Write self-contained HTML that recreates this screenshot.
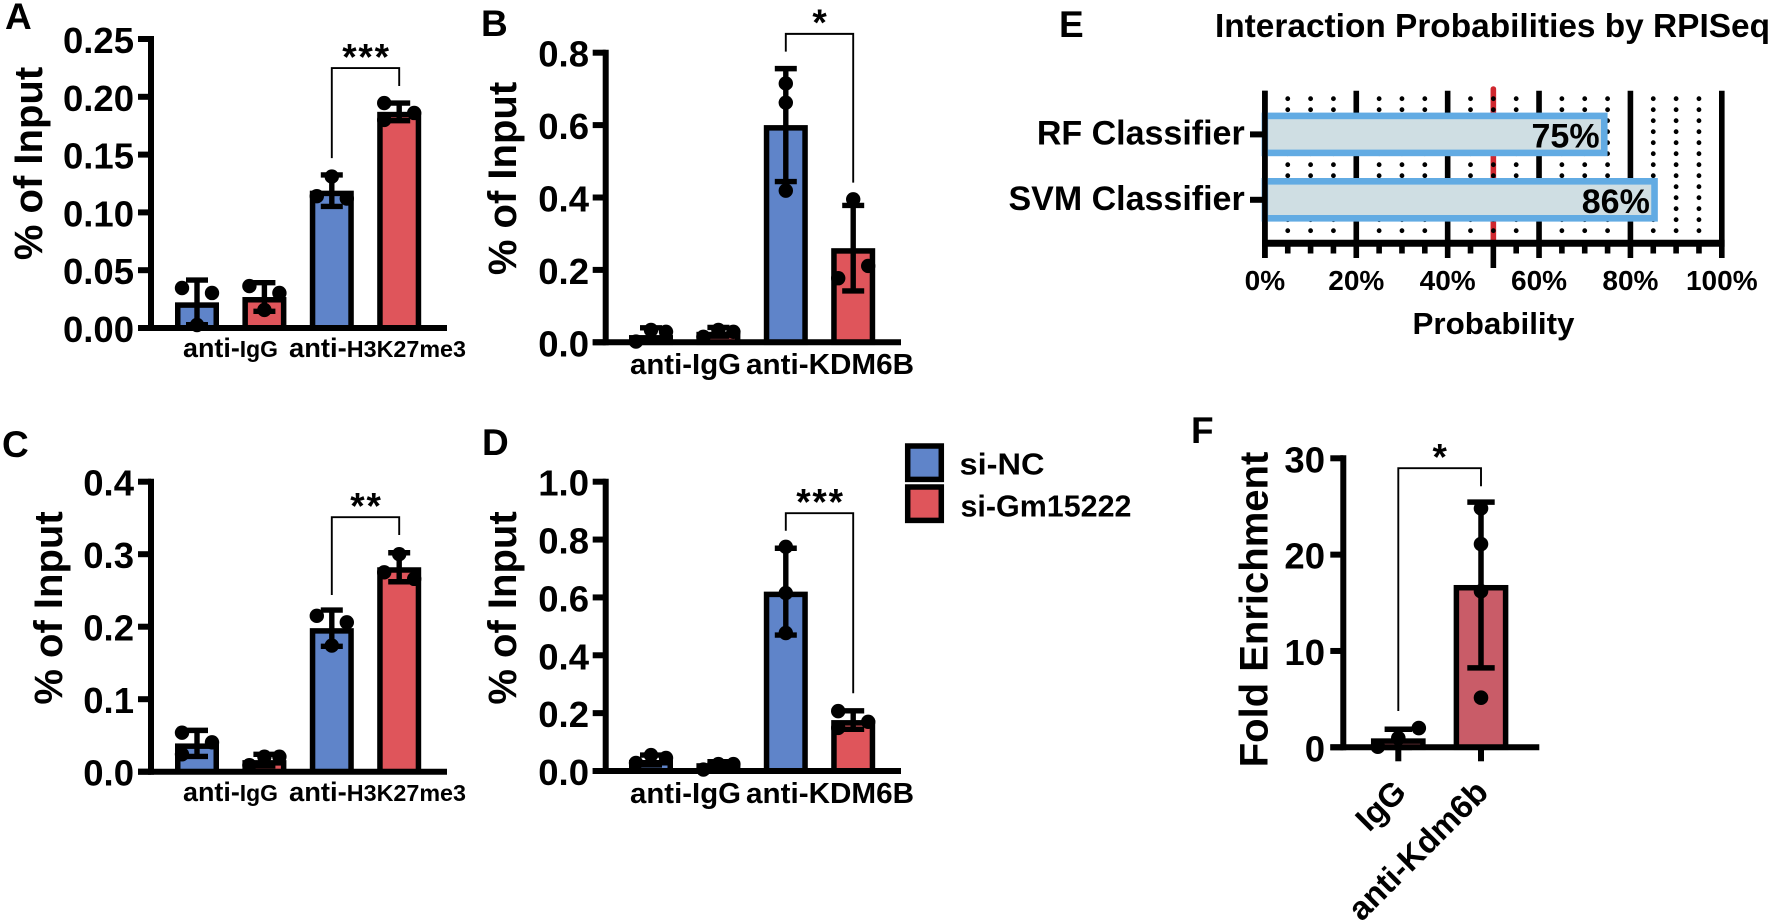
<!DOCTYPE html>
<html lang="en">
<head>
<meta charset="utf-8">
<title>ChIP qPCR panels and RPISeq interaction probabilities</title>
<style>
html,body{margin:0;padding:0;background:#fff;width:1772px;height:922px;overflow:hidden}
svg{display:block;filter:blur(.35px)}
text{font-family:"Liberation Sans",Arial,sans-serif;font-weight:700;fill:#000}
</style>
</head>
<body>
<svg id="figure" xmlns="http://www.w3.org/2000/svg" width="1772" height="922" viewBox="0 0 1772 922">
  <rect width="1772" height="922" fill="#fff"/>

  <text x="5" y="29" font-size="37">A</text>
  <text x="481" y="36" font-size="37">B</text>
  <text x="2" y="457" font-size="37">C</text>
  <text x="482" y="455" font-size="37">D</text>
  <text x="1059" y="37" font-size="37">E</text>
  <text x="1191" y="443" font-size="37">F</text>

  <text transform="translate(42 163.5) rotate(-90)" text-anchor="middle" font-size="40">% of Input</text>
  <text transform="translate(516 178.5) rotate(-90)" text-anchor="middle" font-size="40">% of Input</text>
  <text transform="translate(62 608) rotate(-90)" text-anchor="middle" font-size="40">% of Input</text>
  <text transform="translate(516 608) rotate(-90)" text-anchor="middle" font-size="40">% of Input</text>
  <text transform="translate(1267.5 609.5) rotate(-90)" text-anchor="middle" font-size="40">Fold Enrichment</text>

  <text x="183" y="357" font-size="27" textLength="95" lengthAdjust="spacingAndGlyphs">anti-<tspan font-size="23">IgG</tspan></text>
  <text x="289" y="357" font-size="27" textLength="177" lengthAdjust="spacingAndGlyphs">anti-<tspan font-size="23">H3K27me3</tspan></text>
  <text x="183" y="801" font-size="27" textLength="95" lengthAdjust="spacingAndGlyphs">anti-<tspan font-size="23">IgG</tspan></text>
  <text x="289" y="801" font-size="27" textLength="177" lengthAdjust="spacingAndGlyphs">anti-<tspan font-size="23">H3K27me3</tspan></text>
  <text x="630" y="374" font-size="29" textLength="111" lengthAdjust="spacingAndGlyphs">anti-IgG</text>
  <text x="746" y="374" font-size="29" textLength="168" lengthAdjust="spacingAndGlyphs">anti-KDM6B</text>
  <text x="630" y="803" font-size="29" textLength="111" lengthAdjust="spacingAndGlyphs">anti-IgG</text>
  <text x="746" y="803" font-size="29" textLength="168" lengthAdjust="spacingAndGlyphs">anti-KDM6B</text>

  <text transform="translate(1408 794) rotate(-45)" text-anchor="end" font-size="33">IgG</text>
  <text transform="translate(1490 794) rotate(-45)" text-anchor="end" font-size="33">anti-Kdm6b</text>

  <g>
    <rect x="907.7" y="446" width="33.6" height="33.4" fill="#5f84c9" stroke="#000" stroke-width="5.5"/>
    <text x="959.5" y="474.5" font-size="31" textLength="85" lengthAdjust="spacingAndGlyphs">si-NC</text>
    <rect x="907.7" y="487" width="33.6" height="33.4" fill="#df555b" stroke="#000" stroke-width="5.5"/>
    <text x="960.5" y="516.5" font-size="31" textLength="171" lengthAdjust="spacingAndGlyphs">si-Gm15222</text>
  </g>

  <text x="1215" y="37" font-size="33" textLength="555" lengthAdjust="spacingAndGlyphs">Interaction Probabilities by RPISeq</text>
  <text x="1412.5" y="334" font-size="31" textLength="162" lengthAdjust="spacingAndGlyphs">Probability</text>

  <g id="charts"></g>
</svg>

<script>
/* ---------- Panel A ---------- */
const aTicks = ['0.00', '0.05', '0.10', '0.15', '0.20', '0.25'];
const aMeans = [0.0222, 0.0268, 0.1188, 0.187];
const aErrors = [0.0193, 0.0124, 0.0136, 0.0076];
const aPoints = [[0.0346, 0.0303, 0.0026], [0.0363, 0.0303, 0.0156], [0.131, 0.114, 0.112], [0.1946, 0.186, 0.18]];
const aBracket = [0.147, 0.2093, 0.2249];
const aStars = '***';

/* ---------- Panel B ---------- */
const bTicks = ['0.0', '0.2', '0.4', '0.6', '0.8'];
const bMeans = [0.02, 0.029, 0.6, 0.26];
const bErrors = [0.02, 0.012, 0.156, 0.118];
const bPoints = [[0.002, 0.034, 0.029], [0.015, 0.034, 0.029], [0.715, 0.662, 0.419], [0.395, 0.177, 0.211]];
const bBracket = [0.803, 0.441, 0.852];
const bStars = '*';

/* ---------- Panel C ---------- */
const cTicks = ['0.0', '0.1', '0.2', '0.3', '0.4'];
const cMeans = [0.039, 0.016, 0.198, 0.282];
const cErrors = [0.018, 0.008, 0.025, 0.02];
const cPoints = [[0.0538, 0.0405, 0.024], [0.009, 0.0207, 0.0207], [0.215, 0.206, 0.174], [0.3, 0.275, 0.266]];
const cBracket = [0.2437, 0.3265, 0.351];
const cStars = '**';

/* ---------- Panel D ---------- */
const dTicks = ['0.0', '0.2', '0.4', '0.6', '0.8', '1.0'];
const dMeans = [0.038, 0.027, 0.62, 0.176];
const dErrors = [0.017, 0.005, 0.15, 0.032];
const dPoints = [[0.028, 0.055, 0.045], [0.005, 0.024, 0.024], [0.775, 0.615, 0.477], [0.207, 0.17, 0.149]];
const dBracket = [0.8306, 0.2686, 0.891];
const dStars = '***';

/* ---------- Panel E ---------- */
const eCategories = ['RF Classifier', 'SVM Classifier'];
const eProbabilities = [75, 86];
const eMajorTicks = [0, 20, 40, 60, 80, 100];
const eMinorTicks = [5, 10, 15, 25, 30, 35, 45, 55, 65, 70, 75, 85, 90, 95];
const eThreshold = 50;

/* ---------- Panel F ---------- */
const fTicks = ['0', '10', '20', '30'];
const fMeans = [0.93, 16.85];
const fErrors = [0.94, 8.6];
const fPoints = [[0.06, 0.96, 2], [24.8, 21.1, 16.2, 5.15]];
const fBracket = [3.77, 27.1, 28.97];
const fStars = '*';

const BLUE = '#5f84c9';
const RED = '#df555b';
const FRED = '#c95c68';
const root = document.getElementById('charts');

function make(tag, parent, attrs, text) {
  const el = document.createElementNS('http://www.w3.org/2000/svg', tag);
  Object.keys(attrs).forEach(function (k) { el.setAttribute(k, attrs[k]); });
  if (text !== undefined) el.textContent = text;
  parent.appendChild(el);
  return el;
}

/* Lays out replicate dots the way a swarm does: close values spread sideways. */
function swarm(values, yOf, gap, spread, tightSpan) {
  const order = values.map(function (v, i) { return i; }).sort(function (p, q) { return yOf(values[p]) - yOf(values[q]); });
  const offsets = values.map(function () { return 0; });
  let cluster = [];
  function flush() {
    const ids = cluster.slice().sort(function (p, q) { return p - q; });
    if (ids.length === 2) {
      offsets[ids[0]] = -spread;
      offsets[ids[1]] = spread;
    } else if (ids.length >= 3) {
      const ys = ids.map(function (i) { return yOf(values[i]); });
      const span = Math.max.apply(null, ys) - Math.min.apply(null, ys);
      const slots = span < tightSpan ? [-spread, 0, spread] : [-spread, spread, -spread];
      ids.forEach(function (i, n) { offsets[i] = slots[n % 3]; });
    }
    cluster = [];
  }
  order.forEach(function (i, n) {
    if (n > 0 && yOf(values[i]) - yOf(values[order[n - 1]]) >= gap) flush();
    cluster.push(i);
  });
  flush();
  return offsets;
}

function barPanel(cfg) {
  const g = make('g', root, {});
  
  

  const maxV = parseFloat(cfg.ticks[cfg.ticks.length - 1]);
  const yOf = function (v) { return cfg.zeroY + (cfg.topY - cfg.zeroY) * v / maxV; };
  const xOf = function (i) { return cfg.firstX + i * cfg.stepX; };
  const sw = cfg.barStroke;

  cfg.means.forEach(function (m, i) {
    const cx = xOf(i);
    const top = yOf(m) + sw / 2;
    const bar = make('rect', g, {
      x: cx - cfg.barW / 2 + sw / 2, y: top, width: cfg.barW - sw,
      height: Math.max(0, cfg.zeroY - top), fill: cfg.colors[i], stroke: '#000', 'stroke-width': sw
    });
    
    
  });

  cfg.means.forEach(function (m, i) {
    const cx = xOf(i);
    const hi = yOf(m + cfg.errors[i]);
    const lo = yOf(m - cfg.errors[i]);
    const stem = make('line', g, { x1: cx, x2: cx, y1: hi, y2: lo, stroke: '#000', 'stroke-width': cfg.errStroke });
    
    
    [hi, lo].forEach(function (y) {
      const cap = make('line', g, { x1: cx - cfg.capHalf, x2: cx + cfg.capHalf, y1: y, y2: y, stroke: '#000', 'stroke-width': cfg.errStroke });
      
      
    });
    const offs = swarm(cfg.points[i], yOf, 14, cfg.spread, cfg.tightSpan);
    cfg.points[i].forEach(function (v, n) {
      const dot = make('circle', g, { cx: cx + offs[n], cy: yOf(v), r: cfg.dotR, fill: '#000' });
      
      
    });
  });

  const yAxis = make('line', g, { x1: cfg.axisX, x2: cfg.axisX, y1: cfg.topY - 3, y2: cfg.zeroY + 3, stroke: '#000', 'stroke-width': 6 });
  
  
  const xAxis = make('line', g, { x1: cfg.axisX - 13, x2: cfg.axisEnd, y1: cfg.zeroY, y2: cfg.zeroY, stroke: '#000', 'stroke-width': 6 });
  
  

  cfg.ticks.forEach(function (t) {
    const y = yOf(parseFloat(t));
    const tick = make('line', g, { x1: cfg.axisX - 13, x2: cfg.axisX, y1: y, y2: y, stroke: '#000', 'stroke-width': 6 });
    
    
    const label = make('text', g, { x: cfg.labelRight, y: y + 14, 'text-anchor': 'end', 'font-size': 36.5 }, t);
    
    
  });

  (cfg.catTicks || []).forEach(function (i) {
    const t = make('line', g, { x1: xOf(i), x2: xOf(i), y1: cfg.zeroY, y2: cfg.zeroY + 14, stroke: '#000', 'stroke-width': 6 });
    
    
  });

  const bx1 = xOf(cfg.bracketFrom), bx2 = xOf(cfg.bracketTo);
  const by = yOf(cfg.bracket[2]);
  const bracket = make('path', g, {
    d: 'M' + bx1 + ' ' + yOf(cfg.bracket[0]) + 'V' + by + 'H' + bx2 + 'V' + yOf(cfg.bracket[1]),
    fill: 'none', stroke: '#000', 'stroke-width': 1.9
  });
  
  
  const star = make('text', g, {
    x: (bx1 + bx2) / 2 + 1, y: by - cfg.starLift + 0.55 * 37, 'text-anchor': 'middle', 'font-size': 37, 'letter-spacing': 1.8
  }, cfg.stars);
  
  
}

const fourColors = [BLUE, RED, BLUE, RED];
const leftPanel = { firstX: 197, stepX: 67.4, axisX: 151, axisEnd: 447, labelRight: 134, barW: 44, barStroke: 5.5, errStroke: 5.4, capHalf: 11, dotR: 7.2, spread: 15, tightSpan: 12, colors: fourColors, bracketFrom: 2, bracketTo: 3, starLift: 19 };
const midPanel = { firstX: 651, stepX: 67.4, axisX: 605.7, axisEnd: 901, labelRight: 589, barW: 44, barStroke: 5.5, errStroke: 5.4, capHalf: 11, dotR: 7.2, spread: 15, tightSpan: 12, colors: fourColors, bracketFrom: 2, bracketTo: 3, starLift: 19 };

barPanel(Object.assign({}, leftPanel, { id: 'a', ticks: aTicks, means: aMeans, errors: aErrors, points: aPoints, bracket: aBracket, stars: aStars, topY: 39, zeroY: 328 }));
barPanel(Object.assign({}, midPanel, { id: 'b', ticks: bTicks, means: bMeans, errors: bErrors, points: bPoints, bracket: bBracket, stars: bStars, topY: 52.7, zeroY: 342.3 }));
barPanel(Object.assign({}, leftPanel, { id: 'c', ticks: cTicks, means: cMeans, errors: cErrors, points: cPoints, bracket: cBracket, stars: cStars, topY: 481.7, zeroY: 771.7 }));
barPanel(Object.assign({}, midPanel, { id: 'd', ticks: dTicks, means: dMeans, errors: dErrors, points: dPoints, bracket: dBracket, stars: dStars, topY: 481.7, zeroY: 771 }));
barPanel({ id: 'f', ticks: fTicks, means: fMeans, errors: fErrors, points: fPoints, bracket: fBracket, stars: fStars, topY: 458.3, zeroY: 747.3, firstX: 1398.3, stepX: 82.7, axisX: 1343.3, axisEnd: 1539.3, labelRight: 1325, barW: 54.7, barStroke: 5.5, errStroke: 5.5, capHalf: 13.7, dotR: 7.3, spread: 20.5, tightSpan: 22, colors: [FRED, FRED], bracketFrom: 0, bracketTo: 1, catTicks: [0, 1], starLift: 19 });

/* ---------- Panel E drawing ---------- */
(function () {
  const g = make('g', root, {});
  
  
  const x0 = 1264.9, x100 = 1721.8, axisY = 243.3;
  const xOf = function (p) { return x0 + (x100 - x0) * p / 100; };
  const rowY = function (i) { return 134.4 + i * 65.4; };

  eMajorTicks.forEach(function (p) {
    const l = make('line', g, { x1: xOf(p), x2: xOf(p), y1: 90.7, y2: 258, stroke: '#000', 'stroke-width': 5.6 });
    
    
    const lab = make('text', g, { x: xOf(p), y: 290, 'text-anchor': 'middle', 'font-size': 28 }, p + '%');
    
    
  });

  const redLine = make('line', g, { x1: xOf(eThreshold), x2: xOf(eThreshold), y1: 89, y2: axisY, stroke: '#d0282f', 'stroke-width': 5.6, 'stroke-linecap': 'round' });
  
  

  eMinorTicks.concat([eThreshold]).forEach(function (p) {
    const d = make('line', g, { x1: xOf(p), x2: xOf(p), y1: 98.7, y2: 232, stroke: '#000', 'stroke-width': 4.8, 'stroke-linecap': 'round', 'stroke-dasharray': '0 11' });
    
    
    const t = make('line', g, { x1: xOf(p), x2: xOf(p), y1: axisY, y2: p === eThreshold ? 268 : 253.5, stroke: '#000', 'stroke-width': 5.6 });
    
    
  });

  eProbabilities.forEach(function (p, i) {
    const y = rowY(i);
    const bar = make('rect', g, { x: x0, y: y - 21.8 + 3.3, width: Math.max(0, xOf(p) - x0 - 3.3), height: 37, fill: '#cfdee3', stroke: '#62abe3', 'stroke-width': 6.6 });
    
    
    const val = make('text', g, { x: xOf(p) - 8, y: y + 13.3, 'text-anchor': 'end', 'font-size': 34 }, p + '%');
    
    
    const tick = make('line', g, { x1: 1250, x2: x0, y1: y, y2: y, stroke: '#000', 'stroke-width': 6 });
    
    
    const cat = make('text', g, { x: 1244.7, y: y + 10, 'text-anchor': 'end', 'font-size': 34 }, eCategories[i]);
    
    
  });

  const yAxis = make('line', g, { x1: x0, x2: x0, y1: 90.7, y2: 258, stroke: '#000', 'stroke-width': 5.6 });
  
  
  const xAxis = make('line', g, { x1: x0 - 2.8, x2: x100 + 2.8, y1: axisY, y2: axisY, stroke: '#000', 'stroke-width': 7 });
  
  
})();
</script>
</body>
</html>
